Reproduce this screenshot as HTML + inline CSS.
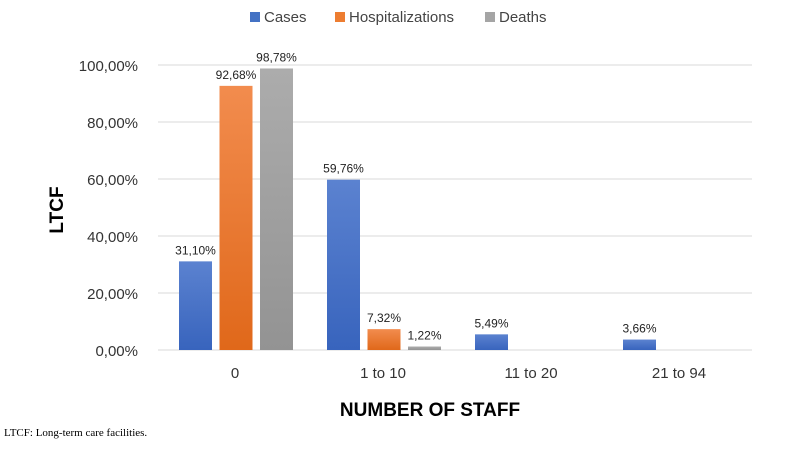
<!DOCTYPE html>
<html><head><meta charset="utf-8"><style>
body{margin:0;background:#fff;}
svg text{font-family:"Liberation Sans",sans-serif;}
</style></head><body>
<svg id="chart" width="800" height="444" viewBox="0 0 800 444">
<defs>
<linearGradient id="gb" x1="0" y1="0" x2="0" y2="1"><stop offset="0" stop-color="#5b82d0"/><stop offset="1" stop-color="#3864bd"/></linearGradient>
<linearGradient id="go" x1="0" y1="0" x2="0" y2="1"><stop offset="0" stop-color="#f28c4e"/><stop offset="1" stop-color="#e0681a"/></linearGradient>
<linearGradient id="gg" x1="0" y1="0" x2="0" y2="1"><stop offset="0" stop-color="#acacac"/><stop offset="1" stop-color="#939393"/></linearGradient>
</defs>
<g id="legend">
<rect x="250" y="12" width="10" height="10" fill="#4472c4"/>
<text x="264" y="22" font-size="15" fill="#444">Cases</text>
<rect x="335" y="12" width="10" height="10" fill="#ed7d31"/>
<text x="349" y="22" font-size="15" fill="#444">Hospitalizations</text>
<rect x="485" y="12" width="10" height="10" fill="#a5a5a5"/>
<text x="499" y="22" font-size="15" fill="#444">Deaths</text>
</g>
<g id="grid"></g><g id="bars"></g><g id="labels"></g>
<text transform="translate(63,210) rotate(-90)" text-anchor="middle" font-size="19" font-weight="bold" fill="#000">LTCF</text>
<text x="430" y="416" text-anchor="middle" font-size="19" font-weight="bold" fill="#000">NUMBER OF STAFF</text>
<text x="4" y="436" font-size="11" fill="#000" style="font-family:'Liberation Serif',serif">LTCF: Long-term care facilities.</text>
</svg>
<script>
const categories=["0","1 to 10","11 to 20","21 to 94"];
const cases=[31.10,59.76,5.49,3.66];
const hosp=[92.68,7.32,null,null];
const deaths=[98.78,1.22,null,null];
const yTicks=[0,20,40,60,80,100];
const yTickLabels=["0,00%","20,00%","40,00%","60,00%","80,00%","100,00%"];
const NS="http://www.w3.org/2000/svg";
function y(v){return 350-v*2.85;}
function gx(i){return 179+i*148;}
function mk(t,a,p){const e=document.createElementNS(NS,t);for(const k in a)e.setAttribute(k,a[k]);p.appendChild(e);return e;}
const grid=document.getElementById('grid'),bars=document.getElementById('bars'),labels=document.getElementById('labels');
yTicks.forEach((v,i)=>{
 const l=mk('line',{x1:158,x2:752,y1:y(v),y2:y(v),stroke:'#d9d9d9','stroke-width':1},grid);
 
 
 const t=mk('text',{x:138,y:y(v)+6,'text-anchor':'end','font-size':15,fill:'#333'},grid);
 t.textContent=yTickLabels[i];
 
 
});
const series=[[cases,'url(#gb)','cases'],[hosp,'url(#go)','hospitalizations'],[deaths,'url(#gg)','deaths']];
categories.forEach((c,i)=>{
 series.forEach((s,j)=>{
  const v=s[0][i]; if(v==null) return;
  const x=gx(i)+j*40.5;
  const r=mk('rect',{x:x,y:y(v),width:33,height:350-y(v),fill:s[1]},bars);
  
  
  const t=mk('text',{x:x+16.5,y:y(v)-7,'text-anchor':'middle','font-size':12,fill:'#222'},labels);
  t.textContent=v.toFixed(2).replace('.',',')+'%';
  
  
 });
 const t=mk('text',{x:gx(i)+56,y:378,'text-anchor':'middle','font-size':15,fill:'#333'},labels);
 t.textContent=c;
 
 
});
</script>
</body></html>
